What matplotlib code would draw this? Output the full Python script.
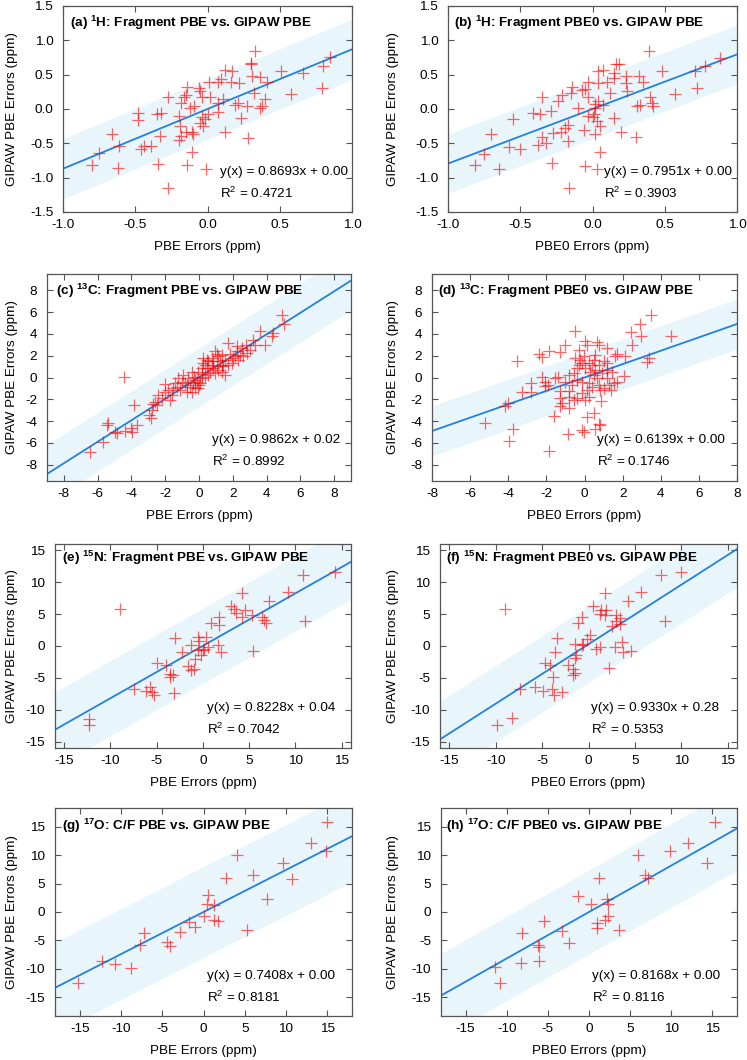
import matplotlib
matplotlib.use("Agg")
import matplotlib.pyplot as plt
import numpy as np

plt.rcParams['font.family'] = ['Liberation Sans', 'DejaVu Sans']
plt.rcParams['mathtext.fontset'] = 'custom'
plt.rcParams['mathtext.rm'] = 'Liberation Sans'
plt.rcParams['mathtext.bf'] = 'Liberation Sans:bold'
plt.rcParams['axes.unicode_minus'] = False

# ---------------- data ----------------
a_x = [0.33, 0.30, 0.30, 0.85, 0.80, 0.51, 0.66, 0.12, 0.17, 0.09, 0.07, 0.01, 0.16, 0.22, 0.31, 0.36, 0.41,
       0.79, 0.58, 0.32, 0.40, 0.38, 0.36, 0.27, 0.21, 0.19, 0.11, 0.07, 0.07, 0.23, 0.12, 0.28, -0.14, -0.15,
       -0.16, -0.06, -0.05, -0.04, 0.02, -0.18, -0.12, -0.09, -0.27, -0.48, -0.48, -0.35, -0.32, -0.20, -0.19,
       -0.04, 0.00, -0.02, -0.05, -0.03, -0.15, -0.11, -0.10, -0.18, -0.20, -0.33, -0.66, -0.44, -0.46, -0.39,
       -0.61, -0.75, -0.11, -0.80, -0.62, -0.34, -0.14, -0.01, -0.27]
a_y = [0.85, 0.67, 0.66, 0.76, 0.62, 0.55, 0.53, 0.57, 0.55, 0.44, 0.40, 0.40, 0.40, 0.38, 0.48, 0.46, 0.40,
       0.31, 0.22, 0.23, 0.15, 0.04, 0.01, 0.04, 0.09, 0.06, 0.14, 0.09, -0.05, -0.13, -0.33, -0.42, 0.32, 0.21,
       0.18, 0.31, 0.26, 0.17, 0.17, 0.09, 0.01, 0.04, 0.17, -0.06, -0.16, -0.08, -0.06, -0.10, -0.25,
       -0.11, -0.08, -0.15, -0.21, -0.25, -0.33, -0.33, -0.37, -0.39, -0.45, -0.40, -0.36, -0.54, -0.58, -0.54,
       -0.54, -0.64, -0.62, -0.82, -0.86, -0.80, -0.82, -0.87, -1.15]

b_x = [0.39, 0.88, 0.78, 0.71, 0.72, 0.57, 0.48, 0.18, 0.16, 0.07, 0.04, 0.15, 0.23, 0.32, 0.15, 0.10, 0.04,
       0.35, 0.23, 0.24, 0.12, -0.03, -0.05, -0.14, -0.15, -0.07, -0.03, -0.21, -0.35, -0.24, -0.10, 0.04, 0.02,
       0.07, 0.40, 0.41, 0.42, 0.33, 0.31, -0.29, -0.41, -0.36, -0.03, 0.01, 0.02, 0.00, 0.15, 0.03, -0.55,
       -0.17, -0.19, 0.05, -0.22, -0.27, -0.06, 0.20, -0.35, 0.02, 0.30, -0.70, -0.32, -0.38, -0.17, -0.58,
       -0.50, -0.75, 0.05, -0.81, -0.65, -0.28, -0.05, 0.03, -0.16]
b_y = [0.85, 0.74, 0.62, 0.55, 0.31, 0.22, 0.55, 0.66, 0.65, 0.57, 0.55, 0.52, 0.48, 0.48, 0.45, 0.40, 0.38,
       0.40, 0.38, 0.26, 0.23, 0.40, 0.29, 0.32, 0.23, 0.28, 0.18, 0.21, 0.18, 0.11, 0.01, 0.11, 0.08,
       0.06, 0.18, 0.09, 0.05, 0.06, 0.04, -0.03, -0.06, -0.08, -0.10, -0.08, 0.01, -0.12, -0.13, -0.17, -0.14,
       -0.23, -0.28, -0.25, -0.33, -0.35, -0.30, -0.33, -0.41, -0.37, -0.41, -0.37, -0.50, -0.53, -0.47, -0.55,
       -0.58, -0.65, -0.62, -0.82, -0.87, -0.79, -0.83, -0.87, -1.15]

c_x = [4.89, 5.04, 3.60, 4.39, 4.30, 3.90, 3.20, 2.76, 2.23, 1.73, 0.95, 1.04, 0.26, -4.47, -3.84, -5.36, -5.45,
       -6.44, -5.66, -5.00, -4.87, -4.37, -4.02, -3.68, -3.98, -2.94, -2.86, -2.70, -2.60, -2.40, -2.00, -1.71,
       -1.62, -1.42, -1.22, -0.93, -1.12, -0.73, -0.53, -0.33, -0.14, -0.04, -0.28, 0.16, 0.45, 0.75, 0.65,
       1.14, 1.34, 1.54, 1.73, 2.03, 2.42, 2.62, 1.83, 1.34, 0.55, 0.35, 0.75, 1.14, 1.54, 0.95, 1.24, 2.23,
       0.06, -0.63, -0.83, -1.02, -1.32, -1.81, -2.21, -2.50, -2.80, -0.43, -0.08, 0.16, 0.35, 0.55, 0.85,
       1.04, 1.44, 1.93, 2.13, 2.32, 2.82, 3.01, 3.31, 2.52, -0.24, -0.43, -0.73, -1.52, -2.00, -0.24, 0.00,
       0.16, 0.26, 0.45, 0.85, 1.34]
c_y = [5.71, 4.91, 4.23, 4.08, 3.77, 2.94, 3.47, 2.94, 2.85, 3.16, 2.45, 2.15, 1.78, 0.09, -2.52, -4.20, -4.36,
       -6.81, -5.89, -4.97, -5.12, -4.88, -4.66, -4.36, -5.03, -3.44, -3.68, -2.45, -2.21, -1.60, -0.61, -2.06,
       -1.60, -0.52, -0.06, 0.25, -1.13, -1.29, -0.83, -0.52, -0.37, -0.98, 0.09, -0.06, 0.86, 1.17, 0.55,
       0.71, 1.17, 1.63, 1.17, 1.78, 2.09, 1.93, 2.15, 2.02, 1.47, 1.17, 1.78, 1.93, 0.25, 0.40, 1.47, 2.39,
       -0.52, -0.06, -0.52, -0.37, -0.83, -1.13, -1.90, -2.52, -2.98, 0.55, 0.49, 0.31, 0.09, 0.25, 0.86,
       1.01, 1.01, 1.32, 1.93, 1.63, 2.24, 2.55, 3.01, 2.70, -0.98, -1.29, -0.67, -0.98, -1.29, -0.21, -0.67,
       0.86, 1.32, 1.63, 1.47, 0.55]

d_x = [3.51, 2.93, 2.98, 2.46, 2.49, 4.54, 3.37, 3.28, -0.48, 2.14, 1.70, 1.62, 1.18, 0.66, 0.74, 0.01, 0.13,
       -0.27, -1.01, -1.27, -1.84, -2.40, -2.23, -3.54, -0.48, -0.22, -0.13, 0.22, 0.48, 0.74, 1.01, 1.18,
       -0.39, -0.57, -0.80, 0.04, 0.31, 0.57, 0.92, 1.18, 1.44, 2.09, -2.23, -2.05, -1.53, -1.39, -1.01, -2.79,
       -2.05, -1.91, -3.28, -2.79, -1.27, -0.83, 0.22, 0.39, 0.74, 1.01, 1.27, 1.53, 1.70, 0.13, -0.13, -0.39,
       -0.57, 0.04, 0.83, 0.88, 0.22, -0.83, -1.18, -0.80, -1.27, -4.01, -4.15, -1.62, 0.48, 0.13, -5.20,
       -3.77, -3.94, 0.74, 0.83, 0.57, -0.13, -0.04, -0.87, -1.84, -0.31, 0.39, -0.04, 0.57, -0.39, -0.13,
       -0.66, 0.48, 0.66, 1.18, 1.41, -1.27]
d_y = [5.71, 4.91, 3.77, 4.17, 3.01, 3.77, 1.78, 1.41, 4.29, 1.93, 2.15, 1.93, 2.70, 3.25, 2.94, 3.31, 3.01,
       2.55, 2.94, 2.33, 2.45, 2.15, 1.84, 1.53, 1.78, 1.63, 1.32, 1.32, 1.63, 1.17, 1.47, 1.32,
       0.86, 0.40, 0.25, 0.86, 0.55, 0.71, 0.40, -0.06, 0.55, 0.18, 0.09, -0.37, -0.06, 0.09, -0.37, -0.52,
       -0.74, -0.67, -1.35, -1.29, -1.23, -1.23, -0.52, -0.83, -0.67, -0.98, -0.67, -0.52, -0.37, -1.13, -1.44, -1.90,
       -2.06, -2.06, -1.13, -2.15, -1.75, -1.75, -2.36, -2.76, -2.58, -2.36, -2.58, -3.50, -3.28, -3.59, -4.20,
       -4.75, -5.83, -4.29, -4.36, -4.72, -4.82, -5.03, -5.18, -6.75, 1.17, 1.17, 1.93, 2.09, -0.21, -0.37,
       -0.67, 0.25, -0.06, 0.71, -1.13, -1.90]

e_x = [14.3, 10.76, 9.23, 7.09, 4.17, 2.99, 3.35, 3.53, 4.49, 4.24, 5.31, 6.38, 6.84, 6.63, 11.0, -8.94, 1.75,
       0.85, 1.75, -3.06, -0.57, 0.32, -0.39, -1.28, 0.14, 0.50, -0.57, -0.04, 1.57, 1.92, -0.21, -0.85, -2.24,
       5.38, -5.02, -3.95, -1.64, -1.28, -0.93, -3.60, -3.24, -3.60, -7.45, -5.74, -6.17, -5.49, -5.27, -3.14,
       -12.33, -12.33]
e_y = [11.56, 11.15, 8.54, 7.03, 8.33, 6.35, 5.73, 5.21, 5.57, 4.53, 4.90, 4.53, 3.65, 4.01, 3.85, 5.83, 4.53,
       3.65, 3.23, 1.25, 1.41, 1.41, 0.73, 0.10, -0.42, -0.16, -0.68, -0.68, 0.21, -0.94, -1.46, -2.08, -0.94,
       -0.83, -2.66, -3.02, -3.13, -3.80, -3.65, -4.32, -4.58, -4.84, -6.67, -6.41, -7.08, -7.19, -7.71, -7.34,
       -11.46, -12.40]

f_x = [9.94, 7.80, 5.66, 1.75, 4.24, -9.05, 0.50, 1.39, 1.85, 1.21, 1.75, 2.92, 3.35, 3.00, 2.57, 3.35, 8.27,
       -0.75, -1.10, 0.14, -0.21, -0.57, -0.75, -3.42, -1.46, 0.86, 1.21, 2.81, 3.60, 3.71, 4.60, -3.60, -1.35,
       -1.46, -4.67, -4.13, -2.24, -3.78, -1.64, -1.46, -1.71, 2.21, -5.74, -7.41, -4.92, -3.95, -3.67, -2.89,
       -8.23, -9.90]
f_y = [11.56, 11.15, 8.44, 8.33, 7.03, 5.83, 6.35, 5.57, 5.57, 5.05, 4.79, 4.79, 4.38, 3.85, 3.13, 3.49, 3.91,
       4.53, 3.65, 1.67, 1.04, 0.36, 0.10, 1.30, 0.36, -0.42, -0.16, -0.16, 0.63, -0.94, -0.78, -0.94, -1.46,
       -1.88, -2.60, -2.92, -3.02, -4.84, -3.65, -4.17, -4.58, -3.39, -6.41, -6.67, -7.08, -6.77, -7.71, -7.19,
       -11.35, -12.40]

g_x = [15.0, 13.05, 14.88, 4.05, 9.61, 2.72, 6.04, 10.70, 7.66, 0.49, 0.41, 1.22, 0.08, -1.74, -1.01, -2.84,
       1.22, 1.70, 5.23, -7.22, -7.70, -4.38, -4.05, -12.36, -10.74, -8.76, -15.24]
g_y = [15.76, 12.06, 10.71, 10.0, 8.65, 6.06, 6.59, 5.88, 2.35, 2.94, 1.47, 1.29, -0.71, -1.76, -2.65, -3.53,
       -1.47, -1.65, -3.12, -3.71, -5.88, -5.29, -6.06, -8.65, -9.12, -9.82, -12.53]

h_x = [15.32, 12.10, 9.88, 14.31, 5.97, 6.85, 7.18, 1.21, -1.33, 0.28, 2.22, 2.34, 2.34, 1.94, 1.01, 1.01,
       3.63, -5.52, -3.23, -2.42, -8.19, -6.25, -6.13, -6.05, -8.27, -11.49, -10.81]
h_y = [15.76, 12.06, 10.71, 8.71, 10.0, 6.59, 6.06, 6.06, 2.76, 1.47, 2.35, 1.47, -0.76, -1.47, -1.88, -2.82,
       -3.12, -1.59, -3.41, -5.47, -3.71, -5.88, -6.18, -8.65, -9.0, -9.71, -12.47]

panel_labels = ['a', 'b', 'c', 'd', 'e', 'f', 'g', 'h']
titles = [r'(a) $^{\mathbf{1}}$H: Fragment PBE vs. GIPAW PBE',
          r'(b) $^{\mathbf{1}}$H: Fragment PBE0 vs. GIPAW PBE',
          r'(c) $^{\mathbf{13}}$C: Fragment PBE vs. GIPAW PBE',
          r'(d) $^{\mathbf{13}}$C: Fragment PBE0 vs. GIPAW PBE',
          r'(e) $^{\mathbf{15}}$N: Fragment PBE vs. GIPAW PBE',
          r'(f) $^{\mathbf{15}}$N: Fragment PBE0 vs. GIPAW PBE',
          r'(g) $^{\mathbf{17}}$O: C/F PBE vs. GIPAW PBE',
          r'(h) $^{\mathbf{17}}$O: C/F PBE0 vs. GIPAW PBE']
xlabels = ['PBE Errors (ppm)', 'PBE0 Errors (ppm)'] * 4
ylabel = 'GIPAW PBE Errors (ppm)'
slopes = [0.8693, 0.7951, 0.9862, 0.6139, 0.8228, 0.9330, 0.7408, 0.8168]
intercepts = [0.00, 0.00, 0.02, 0.00, 0.04, 0.28, 0.00, 0.00]
r2 = [0.4721, 0.3903, 0.8992, 0.1746, 0.7042, 0.5353, 0.8181, 0.8116]
band_halfwidth = [0.44, 0.43, 2.7, 2.3, 5.9, 6.0, 8.0, 7.4]
xs = [a_x, b_x, c_x, d_x, e_x, f_x, g_x, h_x]
ys = [a_y, b_y, c_y, d_y, e_y, f_y, g_y, h_y]

# ---------------- layout (pixels) ----------------
W, H = 747, 1060
boxes = [(63, 6, 352, 212), (448, 6, 737, 212),
         (47, 274, 351, 481), (432, 274, 737, 481),
         (55, 544, 351, 748), (440, 544, 737, 748),
         (55, 808, 352, 1016), (441, 808, 737, 1016)]
xlims = [(-1, 1), (-1, 1), (-9, 9), (-8, 8), (-16, 16), (-16, 16), (-18, 18), (-18, 18)]
ylims = [(-1.5, 1.5), (-1.5, 1.5), (-9.5, 9.5), (-9.5, 9.5), (-16, 16), (-16, 16), (-18.3, 18.3), (-18.3, 18.3)]
xticks = [np.arange(-1, 1.01, 0.5)] * 2 + [np.arange(-8, 9, 2)] * 2 + [np.arange(-15, 16, 5)] * 4
yticks = [np.arange(-1.5, 1.51, 0.5)] * 2 + [np.arange(-8, 9, 2)] * 2 + [np.arange(-15, 16, 5)] * 4
fmt1 = [True, True, False, False, False, False, False, False]
title_pos = [(70, 23), (454, 23), (56, 291), (438, 291), (62, 558), (446, 558), (62, 826), (446, 826)]
eq_pos = [(220, 172), (604, 172), (212, 440), (597, 440), (207, 708), (591, 708), (207, 976), (592, 976)]

fig = plt.figure(figsize=(W / 100, H / 100), dpi=100)
FS = 9.7
frame_col = '#555555'
line_col = '#2380dc'
band_col = '#e8f6fc'

for i in range(8):
    l, t, r, b = boxes[i]
    ax = fig.add_axes([l / W, 1 - b / H, (r - l) / W, (b - t) / H])
    x0, x1 = xlims[i]
    xx = np.linspace(x0, x1, 200)
    yy = slopes[i] * xx + intercepts[i]
    ax.fill_between(xx, yy - band_halfwidth[i], yy + band_halfwidth[i], color=band_col, lw=0, zorder=1)
    ax.plot(xx, yy, color=line_col, lw=1.3, zorder=2)
    ax.plot(xs[i], ys[i], linestyle='none', marker='+', markersize=9, markeredgewidth=0.9,
            color='#ff0000', alpha=0.6, zorder=3)
    ax.set_xlim(x0, x1)
    ax.set_ylim(*ylims[i])
    ax.set_xticks(xticks[i])
    ax.set_yticks(yticks[i])
    if fmt1[i]:
        ax.set_xticklabels(['%.1f' % v for v in xticks[i]])
        ax.set_yticklabels(['%.1f' % v for v in yticks[i]])
    else:
        ax.set_xticklabels(['%d' % v for v in xticks[i]])
        ax.set_yticklabels(['%d' % v for v in yticks[i]])
    ax.tick_params(direction='in', length=4, width=0.8, color=frame_col, top=True, right=True,
                   labelsize=FS, pad=5)
    ax.tick_params(axis='y', pad=7)
    for s in ax.spines.values():
        s.set_color(frame_col)
        s.set_linewidth(0.9)
    tx, ty = title_pos[i]
    fig.text(tx / W, 1 - ty / H, titles[i], fontsize=FS, fontweight='bold', ha='left', va='center')
    ex, ey = eq_pos[i]
    fig.text(ex / W, 1 - ey / H, 'y(x) = %.4fx + %.2f' % (slopes[i], intercepts[i]),
             fontsize=FS, ha='left', va='center')
    fig.text(ex / W, 1 - (ey + 21) / H, r'R$^2$ = %.4f' % r2[i], fontsize=FS, ha='left', va='center')
    # axis labels
    fig.text((l + r) / 2 / W, 1 - (b + 35) / H, xlabels[i], fontsize=FS, ha='center', va='center')
    ylx = 12 if i % 2 == 0 else 393
    fig.text(ylx / W, 1 - (t + b) / 2 / H, ylabel, fontsize=FS, rotation=90, ha='center', va='center')

fig.savefig('out.png', dpi=100)
